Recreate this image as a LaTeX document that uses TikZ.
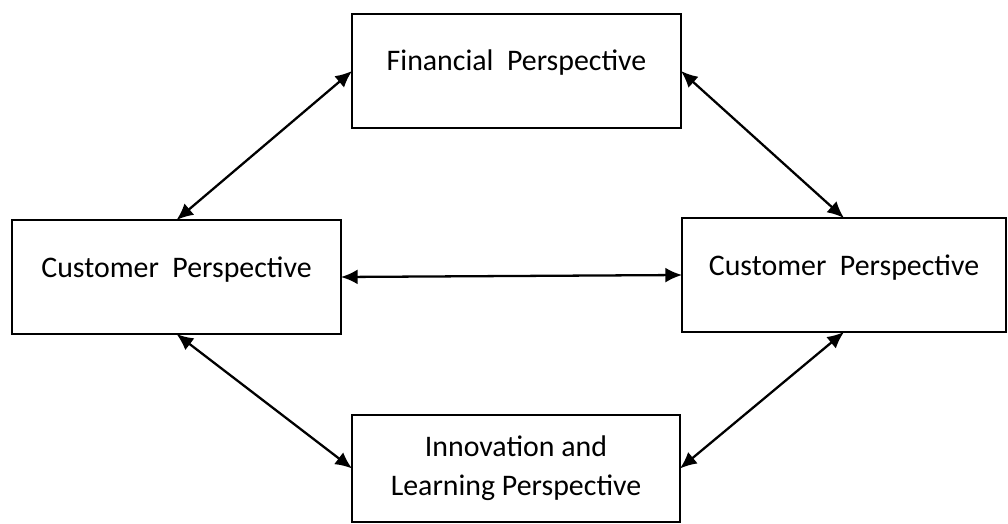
\documentclass[tikz,border=0pt]{standalone}
\usepackage{fontspec}
\setmainfont{Carlito}
\usetikzlibrary{arrows.meta}

\begin{document}
\begin{tikzpicture}[x=0.02cm, y=-0.02cm, font=\fontsize{17}{22}\selectfont,
  box/.style={draw, line width=1.4pt, rectangle, inner sep=0pt, outer sep=0pt},
  oneline/.style={box, text height=10pt, text depth=10pt},
  link/.style={{Latex[length=9.5pt,width=8.5pt]}-{Latex[length=9.5pt,width=8.5pt]}, line width=1.3pt}]
\useasboundingbox (0,0) rectangle (1008,524);

% Riquadri
\node[oneline, minimum width=6.58cm, minimum height=2.28cm] (fin) at (516.5,71) {Financial\ \ Perspective};
\node[oneline, minimum width=6.58cm, minimum height=2.28cm] (custL) at (176.5,277) {Customer\ \ Perspective};
\node[oneline, minimum width=6.48cm, minimum height=2.28cm] (custR) at (844,275) {Customer\ \ Perspective};
\node[box, minimum width=6.56cm, minimum height=2.14cm, align=center] (innov) at (516,468.5) {Innovation and\\Learning Perspective};

% Connessioni
\draw[link] (fin.west) -- (custL.north);
\draw[link] (fin.east) -- (custR.north);
\draw[link] (custL.east) -- (custR.west);
\draw[link] (custL.south) -- (innov.west);
\draw[link] (custR.south) -- (innov.east);

\end{tikzpicture}
\end{document}
